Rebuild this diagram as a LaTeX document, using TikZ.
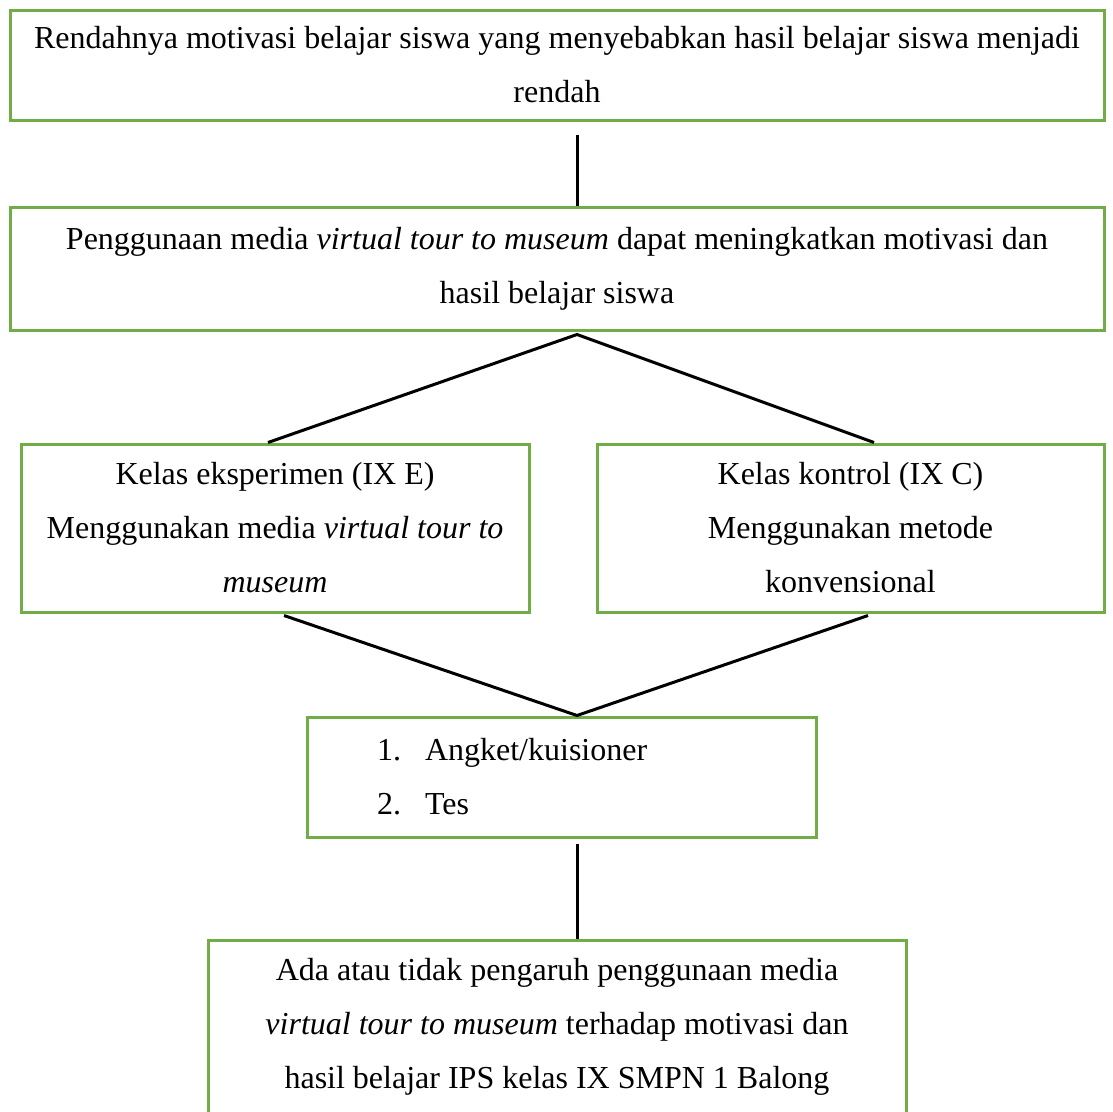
\documentclass[tikz,border=0pt]{standalone}
\usepackage{fontspec}
\setmainfont{Liberation Serif}
\definecolor{boxgreen}{RGB}{112,173,71}
\begin{document}
\begin{tikzpicture}[x=1pt,y=-1pt,
  box/.style={draw=boxgreen,line width=3pt,fill=white,inner sep=0pt,align=center,
    font=\fontsize{32}{54}\selectfont},
  link/.style={draw=black,line width=3pt}]
\useasboundingbox (0,0) rectangle (1113,1111);
\node[box,minimum width=1094,minimum height=110] (b1) at (557,65)
  {Rendahnya motivasi belajar siswa yang menyebabkan hasil belajar siswa menjadi\\rendah};
\node[box,minimum width=1094,minimum height=123] (b2) at (557,268.5)
  {Penggunaan media \textit{virtual tour to museum} dapat meningkatkan motivasi dan\\hasil belajar siswa};
\node[box,minimum width=508,minimum height=168] (b3) at (275,528)
  {Kelas eksperimen (IX E)\\Menggunakan media \textit{virtual tour to}\\\textit{museum}};
\node[box,minimum width=507,minimum height=168] (b4) at (850.5,528)
  {Kelas kontrol (IX C)\\Menggunakan metode\\konvensional};
\node[box,minimum width=509,minimum height=120,text width=369,align=left] (b5) at (561.5,777)
  {\makebox[48pt][l]{1.}Angket/kuisioner\\\makebox[48pt][l]{2.}Tes};
\node[box,minimum width=698,minimum height=174] (b6) at (557,1027)
  {Ada atau tidak pengaruh penggunaan media\\\textit{virtual tour to museum} terhadap motivasi dan\\hasil belajar IPS kelas IX SMPN 1 Balong};
\draw[link] ([xshift=20pt,yshift=-13pt]b1.south) -- ([xshift=20pt]b2.north);
\draw[link] ([xshift=-7pt]b3.north) -- ([xshift=20pt,yshift=-3pt]b2.south) -- ([xshift=23.5pt]b4.north);
\draw[link] ([xshift=9pt,yshift=-2pt]b3.south) -- ([xshift=15.5pt]b5.north) -- ([xshift=17.5pt,yshift=-2pt]b4.south);
\draw[link] ([xshift=15.5pt,yshift=-5pt]b5.south) -- ([xshift=20pt]b6.north);
\end{tikzpicture}
\end{document}
